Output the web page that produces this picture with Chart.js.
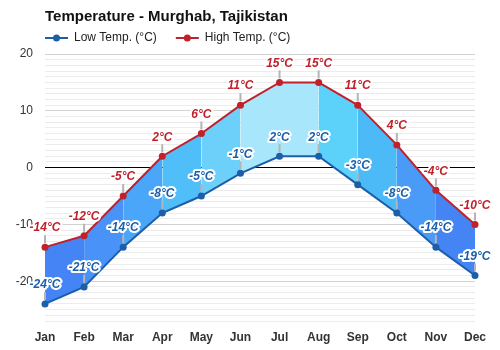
<!DOCTYPE html>
<html>
<head>
<meta charset="utf-8">
<script src="https://cdn.jsdelivr.net/npm/chart.js@4.4.0/dist/chart.umd.min.js"></script>
<style>
  html, body { margin: 0; padding: 0; background: #fff; }
  #wrap { width: 500px; height: 350px; }
</style>
</head>
<body>
<div id="wrap"><canvas id="tempChart" width="500" height="350"></canvas></div>
<script>
const months = ['Jan', 'Feb', 'Mar', 'Apr', 'May', 'Jun', 'Jul', 'Aug', 'Sep', 'Oct', 'Nov', 'Dec'];
const lowTemps = [-24, -21, -14, -8, -5, -1, 2, 2, -3, -8, -14, -19];
const highTemps = [-14, -12, -5, 2, 6, 11, 15, 15, 11, 4, -4, -10];
const chartTitle = 'Temperature - Murghab, Tajikistan';
const legendNames = ['Low Temp. (°C)', 'High Temp. (°C)'];

const lowColor = '#1c5ea8';
const highColor = '#c0212b';
// fill colour for each month-to-month band
const bandColors = ['#4484f5', '#4992f7', '#4aa6f8', '#4fbef9', '#6cd0fa', '#a8e6fb',
                    '#a8e6fb', '#5cd2fa', '#4dbaf8', '#4a9af7', '#4484f5'];

const fontFam = '"Liberation Sans", Arial, sans-serif';

// title + legend drawn by hand so they line up with the plot's left edge
const headerPlugin = {
  id: 'header',
  afterDraw(chart) {
    const ctx = chart.ctx;
    const left = chart.chartArea.left;
    ctx.save();
    ctx.fillStyle = '#111';
    ctx.font = 'bold 15px ' + fontFam;
    ctx.textBaseline = 'middle';
    ctx.textAlign = 'left';
    ctx.fillText(chartTitle, left, 17);

    ctx.font = '12px ' + fontFam;
    let x = left;
    const cols = [lowColor, highColor];
    legendNames.forEach((name, i) => {
      ctx.strokeStyle = cols[i];
      ctx.lineWidth = 2;
      ctx.beginPath();
      ctx.moveTo(x, 38);
      ctx.lineTo(x + 23, 38);
      ctx.stroke();
      ctx.fillStyle = cols[i];
      ctx.beginPath();
      ctx.arc(x + 11.5, 38, 3.5, 0, Math.PI * 2);
      ctx.fill();
      ctx.fillStyle = '#222';
      ctx.fillText(name, x + 29, 38);
      x += 29 + ctx.measureText(name).width + 19;
    });
    ctx.restore();
  }
};

// value labels above each point with a short grey stem
const labelPlugin = {
  id: 'pointLabels',
  afterDatasetsDraw(chart) {
    const ctx = chart.ctx;
    ctx.save();
    ctx.font = 'italic bold 12px ' + fontFam;
    ctx.textAlign = 'center';
    ctx.textBaseline = 'middle';
    chart.data.datasets.forEach((ds, di) => {
      const meta = chart.getDatasetMeta(di);
      meta.data.forEach((pt, i) => {
        ctx.strokeStyle = '#b4b4b4';
        ctx.lineWidth = 2;
        ctx.beginPath();
        ctx.moveTo(pt.x, pt.y - 4);
        ctx.lineTo(pt.x, pt.y - 12);
        ctx.stroke();
        const txt = ds.data[i] + '°C';
        ctx.lineWidth = 4;
        ctx.lineJoin = 'round';
        ctx.strokeStyle = '#fff';
        ctx.strokeText(txt, pt.x, pt.y - 19);
        ctx.fillStyle = di === 0 ? lowColor : highColor;
        ctx.fillText(txt, pt.x, pt.y - 19);
      });
    });
    ctx.restore();
  }
};

const ctx = document.getElementById('tempChart').getContext('2d');
new Chart(ctx, {
  type: 'line',
  data: {
    labels: months,
    datasets: [{
      label: legendNames[0],
      data: lowTemps,
      borderColor: lowColor,
      backgroundColor: lowColor,
      borderWidth: 2,
      pointRadius: 3.5,
      pointBackgroundColor: lowColor,
      pointBorderWidth: 0,
      fill: false,
      tension: 0
    }, {
      label: legendNames[1],
      data: highTemps,
      borderColor: highColor,
      backgroundColor: bandColors[0],
      borderWidth: 2,
      pointRadius: 3.5,
      pointBackgroundColor: highColor,
      pointBorderWidth: 0,
      fill: '-1',
      tension: 0,
      segment: {
        backgroundColor: c => bandColors[c.p0DataIndex]
      }
    }]
  },
  options: {
    responsive: false,
    animation: false,
    layout: { padding: { top: 54, right: 25, left: 0, bottom: 0 } },
    plugins: {
      legend: { display: false },
      title: { display: false },
      tooltip: { enabled: false }
    },
    scales: {
      x: {
        offset: false,
        grid: { display: false, drawTicks: false },
        border: { display: false },
        ticks: {
          color: '#333',
          padding: 9,
          font: { family: fontFam, size: 12, weight: 'bold' },
          maxRotation: 0
        },
        afterFit: s => { s.height = 29; }
      },
      y: {
        min: -27,
        max: 20,
        border: { display: false },
        grid: {
          drawTicks: false,
          color: c => c.tick.value === 0 ? '#000' : (c.tick.value % 10 === 0 ? '#d2d2d2' : '#ececec'),
          lineWidth: 1
        },
        ticks: {
          stepSize: 1,
          autoSkip: false,
          maxTicksLimit: 100,
          color: '#333',
          padding: 12,
          font: { family: fontFam, size: 12 },
          callback: v => v % 10 === 0 ? v : ''
        },
        afterFit: s => { s.width = 45; }
      }
    }
  },
  plugins: [headerPlugin, labelPlugin]
});
</script>
</body>
</html>
